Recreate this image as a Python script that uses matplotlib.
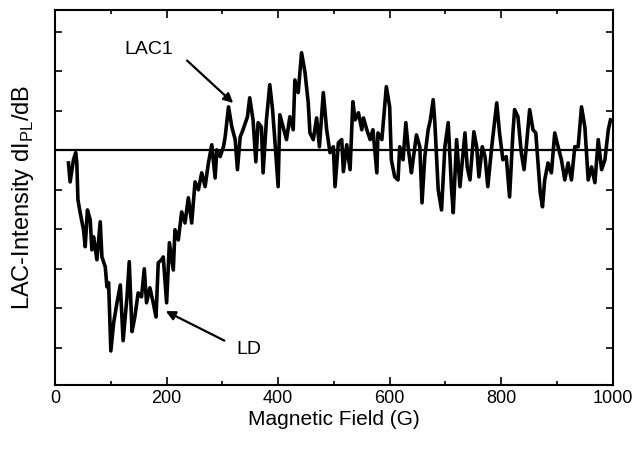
import matplotlib
matplotlib.use('Agg')
import matplotlib.pyplot as plt
from matplotlib.ticker import MultipleLocator

plt.rcParams['font.family'] = ['Liberation Sans', 'DejaVu Sans']

# magnetic field (G) and LAC intensity (arb. units, zero line = 0)
field = [24, 27, 33, 37, 39, 41, 45, 51, 54, 58, 63, 66, 69, 75, 81, 84, 90, 93, 96, 100,
         105, 111, 117, 122, 129, 133, 138, 143, 149, 155, 160, 164, 170, 176, 181, 185, 191, 194, 200, 205,
         212, 215, 221, 227, 233, 239, 245, 251, 257, 263, 269, 275, 281, 287, 290, 296, 302, 305, 311, 317,
         323, 327, 332, 337, 345, 349, 355, 360, 364, 370, 373, 379, 385, 390, 394, 400, 403, 409, 415, 421,
         427, 430, 436, 442, 448, 454, 457, 463, 469, 474, 481, 487, 493, 499, 502, 508, 514, 517, 523, 529,
         534, 538, 544, 550, 553, 559, 565, 570, 577, 579, 586, 591, 594, 600, 603, 609, 615, 618, 624, 629,
         633, 639, 642, 648, 654, 658, 663, 669, 673, 678, 681, 687, 693, 699, 705, 711, 714, 720, 726, 735,
         739, 744, 751, 756, 760, 766, 771, 776, 783, 792, 797, 803, 809, 815, 821, 824, 830, 836, 841, 845,
         851, 857, 862, 866, 870, 874, 878, 884, 890, 896, 902, 908, 914, 920, 926, 932, 938, 944, 950, 956,
         962, 968, 974, 980, 986, 992, 996]
intensity = [-0.32, -0.80, -0.24, -0.06, -0.32, -1.25, -1.58, -2.01, -2.44, -1.51, -1.76, -2.52, -2.19, -2.77, -1.81, -2.70, -2.95, -3.46, -3.35, -5.08,
             -4.37, -3.86, -3.41, -4.82, -3.71, -2.82, -4.59, -4.22, -3.61, -3.71, -3.00, -3.86, -3.48, -3.86, -4.22, -2.85, -2.77, -2.70, -3.86, -2.34,
             -3.03, -2.01, -2.27, -1.56, -1.84, -1.20, -1.84, -0.80, -1.00, -0.57, -0.92, -0.32, 0.14, -0.70, 0.01, -0.16, 0.09, 0.34, 1.10, 0.59,
             0.27, -0.49, 0.34, 0.52, 0.85, 1.33, 0.77, -0.29, 0.70, 0.59, -0.57, 0.77, 1.66, 1.03, 0.27, -0.92, 0.90, 0.59, 0.27, 0.85,
             0.52, 1.78, 1.46, 2.47, 1.99, 1.20, 0.44, 0.27, 0.82, 0.09, 1.46, 0.52, -0.06, 0.09, -0.92, 0.19, 0.27, -0.54, 0.14, -0.49,
             1.23, 0.77, 0.95, 0.52, 0.82, 0.52, 0.27, 0.52, -0.57, 0.44, 0.27, 1.10, 1.61, 1.10, -0.24, -0.67, -0.75, 0.09, -0.24, 0.70,
             0.09, -0.57, -0.24, 0.39, 0.09, -1.33, -0.16, 0.52, 0.77, 1.28, 0.70, -1.00, -1.51, 0.09, 0.70, -1.00, -1.58, 0.27, -0.92, 0.44,
             -0.42, -0.75, 0.47, 0.09, -0.67, 0.09, -0.16, -0.92, 0.09, 1.20, 0.44, -0.24, -0.16, -1.18, 0.44, 1.03, 0.85, -0.06, -0.49, 0.09,
             1.03, 0.52, 0.44, -0.32, -1.08, -1.43, -0.75, -0.32, -0.57, 0.44, 0.09, -0.24, -0.75, -0.32, -0.75, 0.09, 0.09, 1.10, 0.59, -0.75,
             -0.42, -0.82, 0.27, -0.49, -0.24, 0.52, 0.77]

fig = plt.figure(figsize=(6.33, 4.55), dpi=100)
ax = fig.add_axes([0.087, 0.154, 0.881, 0.823])

ax.axhline(0, color='black', lw=1.6)
ax.plot(field, intensity, color='black', lw=2.6, solid_joinstyle='round')

ax.set_xlim(0, 1000)
ax.set_ylim(-5.94, 3.54)
ax.xaxis.set_major_locator(MultipleLocator(200))
ax.xaxis.set_minor_locator(MultipleLocator(100))
ax.yaxis.set_major_locator(MultipleLocator(1))
ax.set_yticklabels([])
ax.tick_params(direction='in', top=True, right=True, which='both', width=1.2)
ax.tick_params(axis='x', which='major', length=6, labelsize=13, pad=4)
ax.tick_params(axis='x', which='minor', length=3)
ax.tick_params(axis='y', which='major', length=5)
for s in ax.spines.values():
    s.set_linewidth(1.5)

ax.set_xlabel('Magnetic Field (G)', fontsize=15, labelpad=2)
ax.set_ylabel('LAC-Intensity dI$_{\\mathregular{PL}}$/dB', fontsize=17, labelpad=10)

# labels with arrows
ax.text(168, 2.55, 'LAC1', fontsize=14, ha='center', va='center')
ax.annotate('', xy=(323, 1.15), xytext=(233, 2.32),
            arrowprops=dict(arrowstyle='-|>', lw=1.6, color='black', mutation_scale=14))
ax.text(325, -5.05, 'LD', fontsize=14, ha='left', va='center')
ax.annotate('', xy=(194, -4.04), xytext=(308, -4.85),
            arrowprops=dict(arrowstyle='-|>', lw=1.6, color='black', mutation_scale=14))

fig.savefig('out.png', dpi=100)
